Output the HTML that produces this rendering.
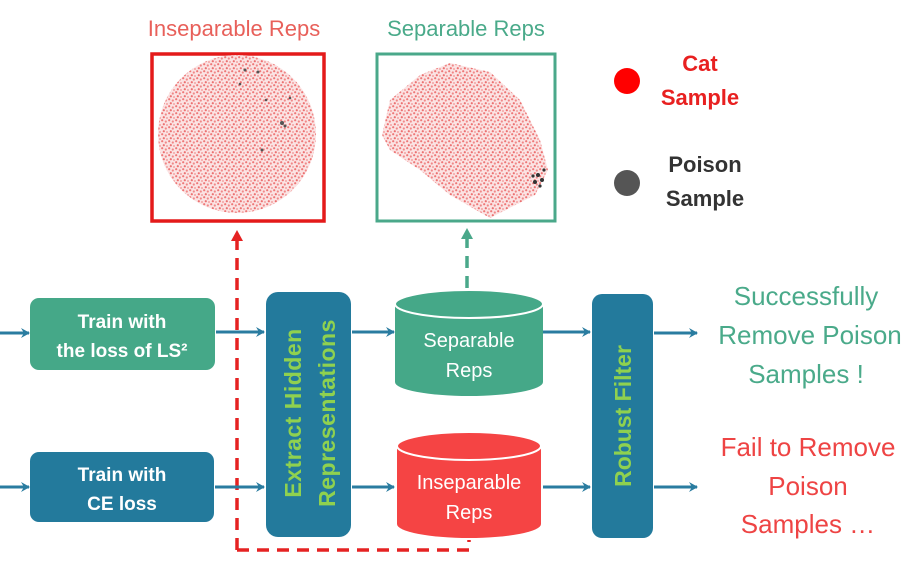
<!DOCTYPE html>
<html><head><meta charset="utf-8"><style>
body{margin:0;background:#fff;}
svg{display:block;font-family:"Liberation Sans","DejaVu Sans",sans-serif;}
</style></head><body>
<svg width="924" height="561" viewBox="0 0 924 561" xmlns="http://www.w3.org/2000/svg">
<defs>
<pattern id="dots" width="7" height="7" patternUnits="userSpaceOnUse">
<rect width="7" height="7" fill="#fbe3e3"/>
<circle cx="1.2" cy="1.2" r="1.1" fill="#ee7777"/>
<circle cx="4.8" cy="2.5" r="1.1" fill="#f08888"/>
<circle cx="2.8" cy="5.2" r="1.1" fill="#ec7070"/>
<circle cx="6" cy="6" r="0.9" fill="#f29090"/>
</pattern>
<marker id="ab" markerWidth="10" markerHeight="10" refX="8" refY="5" orient="auto" markerUnits="userSpaceOnUse"><path d="M0,0 L9,5 L0,10 L3,5 Z" fill="#2a7ca0"/></marker>
<marker id="ar" markerWidth="12" markerHeight="12" refX="6" refY="10" orient="0" markerUnits="userSpaceOnUse"><path d="M0,11 L6,0 L12,11 Z" fill="#e52222"/></marker>
<marker id="ag" markerWidth="12" markerHeight="12" refX="6" refY="10" orient="0" markerUnits="userSpaceOnUse"><path d="M0,11 L6,0 L12,11 Z" fill="#4aa88a"/></marker>
</defs>

<text x="234" y="36" text-anchor="middle" font-size="22" fill="#e8605a">Inseparable Reps</text>
<text x="466" y="36" text-anchor="middle" font-size="22" fill="#4aaa8a">Separable Reps</text>

<rect x="152" y="54" width="172" height="167" fill="#fff" stroke="#e41a1a" stroke-width="3.5"/>
<circle cx="237" cy="134" r="79" fill="url(#dots)"/>
<g fill="#555"><circle cx="245" cy="70" r="1.5"/><circle cx="258" cy="72" r="1.5"/><circle cx="282" cy="123" r="2"/><circle cx="285" cy="126" r="1.5"/><circle cx="262" cy="150" r="1.5"/><circle cx="266" cy="100" r="1.3"/><circle cx="240" cy="84" r="1.3"/><circle cx="290" cy="98" r="1.3"/></g>
<rect x="377" y="54" width="178" height="167" fill="#fff" stroke="#4aa88a" stroke-width="3"/>
<polygon points="382,135 390,100 420,75 450,63 490,72 520,100 540,140 548,170 535,195 490,218 450,195 420,170 390,150" fill="url(#dots)"/>
<g fill="#333"><circle cx="538" cy="175" r="2"/><circle cx="542" cy="180" r="2"/><circle cx="535" cy="182" r="2"/><circle cx="544" cy="170" r="1.6"/><circle cx="540" cy="186" r="1.6"/><circle cx="533" cy="176" r="1.6"/></g>

<circle cx="627" cy="81" r="13" fill="#ff0000"/>
<text x="700" y="71" text-anchor="middle" font-size="22" font-weight="bold" fill="#e82020">Cat</text>
<text x="700" y="105" text-anchor="middle" font-size="22" font-weight="bold" fill="#e82020">Sample</text>
<circle cx="627" cy="183" r="13" fill="#555"/>
<text x="705" y="172" text-anchor="middle" font-size="22" font-weight="bold" fill="#333">Poison</text>
<text x="705" y="206" text-anchor="middle" font-size="22" font-weight="bold" fill="#333">Sample</text>

<path d="M237,550 L237,240" stroke="#e52222" stroke-width="3.5" stroke-dasharray="12,8" fill="none" marker-end="url(#ar)"/>
<path d="M237,550 L469,550 L469,540" stroke="#e52222" stroke-width="3.5" stroke-dasharray="12,8" fill="none"/>
<path d="M467,288 L467,238" stroke="#4aa88a" stroke-width="3.5" stroke-dasharray="12,8" fill="none" marker-end="url(#ag)"/>

<line x1="0" y1="333" x2="29" y2="333" stroke="#2a7ca0" stroke-width="3" marker-end="url(#ab)"/>
<line x1="0" y1="487" x2="29" y2="487" stroke="#2a7ca0" stroke-width="3" marker-end="url(#ab)"/>
<rect x="30" y="298" width="185" height="72" rx="9" fill="#45a888"/>
<text x="122" y="328" text-anchor="middle" font-size="19" font-weight="bold" fill="#fff">Train with</text>
<text x="122" y="357" text-anchor="middle" font-size="19" font-weight="bold" fill="#fff">the loss of LS²</text>
<rect x="30" y="452" width="184" height="70" rx="9" fill="#237a9c"/>
<text x="122" y="481" text-anchor="middle" font-size="19" font-weight="bold" fill="#fff">Train with</text>
<text x="122" y="510" text-anchor="middle" font-size="19" font-weight="bold" fill="#fff">CE loss</text>

<line x1="216" y1="332" x2="264" y2="332" stroke="#2a7ca0" stroke-width="3" marker-end="url(#ab)"/>
<line x1="215" y1="487" x2="264" y2="487" stroke="#2a7ca0" stroke-width="3" marker-end="url(#ab)"/>

<rect x="266" y="292" width="85" height="245" rx="12" fill="#237a9c"/>
<text transform="translate(301,413) rotate(-90)" text-anchor="middle" font-size="23" font-weight="bold" fill="#8fd14f" letter-spacing="0.5">Extract  Hidden</text>
<text transform="translate(335,413) rotate(-90)" text-anchor="middle" font-size="23" font-weight="bold" fill="#8fd14f" letter-spacing="0.5">Representations</text>

<line x1="352" y1="332" x2="394" y2="332" stroke="#2a7ca0" stroke-width="3" marker-end="url(#ab)"/>
<line x1="352" y1="487" x2="394" y2="487" stroke="#2a7ca0" stroke-width="3" marker-end="url(#ab)"/>

<path d="M395,304 L395,382 A74,14 0 0 0 543,382 L543,304 Z" fill="#45a888"/>
<ellipse cx="469" cy="304" rx="74" ry="14" fill="#45a888" stroke="#fff" stroke-width="2"/>
<text x="469" y="347" text-anchor="middle" font-size="20" fill="#fff">Separable</text>
<text x="469" y="377" text-anchor="middle" font-size="20" fill="#fff">Reps</text>
<path d="M397,446 L397,524 A72,14 0 0 0 541,524 L541,446 Z" fill="#f54444"/>
<ellipse cx="469" cy="446" rx="72" ry="14" fill="#f54444" stroke="#fff" stroke-width="2"/>
<text x="469" y="489" text-anchor="middle" font-size="20" fill="#fff">Inseparable</text>
<text x="469" y="519" text-anchor="middle" font-size="20" fill="#fff">Reps</text>

<line x1="543" y1="332" x2="590" y2="332" stroke="#2a7ca0" stroke-width="3" marker-end="url(#ab)"/>
<line x1="543" y1="487" x2="590" y2="487" stroke="#2a7ca0" stroke-width="3" marker-end="url(#ab)"/>

<rect x="592" y="294" width="61" height="244" rx="10" fill="#237a9c"/>
<text transform="translate(631,416) rotate(-90)" text-anchor="middle" font-size="23" font-weight="bold" fill="#8fd14f">Robust  Filter</text>

<line x1="654" y1="333" x2="697" y2="333" stroke="#2a7ca0" stroke-width="3" marker-end="url(#ab)"/>
<line x1="654" y1="487" x2="697" y2="487" stroke="#2a7ca0" stroke-width="3" marker-end="url(#ab)"/>

<g font-size="26" fill="#4aaa8a" text-anchor="middle">
<text x="806" y="305">Successfully</text>
<text x="810" y="344">Remove Poison</text>
<text x="806" y="383">Samples !</text>
</g>
<g font-size="26" fill="#ee4444" text-anchor="middle">
<text x="808" y="456">Fail to Remove</text>
<text x="808" y="495">Poison</text>
<text x="808" y="533">Samples …</text>
</g>
</svg>
</body></html>
